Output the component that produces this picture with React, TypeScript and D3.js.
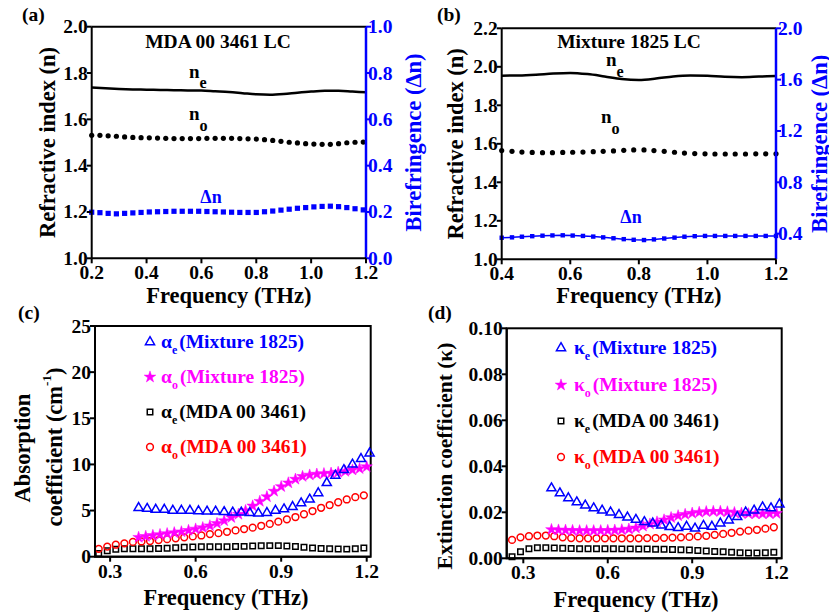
import React from 'react';
import * as d3 from 'd3';

const FONT = 'Liberation Serif, DejaVu Serif, Noto Serif, Times New Roman, Times, serif';
const BLUE = '#0000ff';
const MAGENTA = '#ff00ff';
const RED = '#ff0000';
const BLACK = '#000000';

// ---------- Panel (a): MDA 00 3461 LC ----------
const freqA = [0.20,0.23,0.26,0.29,0.32,0.35,0.38,0.41,0.44,0.47,0.50,0.53,0.56,0.59,0.62,0.65,0.68,0.71,0.74,0.77,0.80,0.83,0.86,0.89,0.92,0.95,0.98,1.01,1.04,1.07,1.10,1.13,1.16,1.19];
const noA = [1.531,1.531,1.529,1.527,1.524,1.522,1.521,1.520,1.519,1.518,1.517,1.517,1.517,1.517,1.518,1.518,1.518,1.518,1.517,1.516,1.515,1.512,1.509,1.505,1.501,1.498,1.495,1.493,1.492,1.492,1.495,1.499,1.501,1.502];
const dnA = [0.199,0.197,0.194,0.192,0.194,0.196,0.198,0.200,0.201,0.202,0.203,0.203,0.203,0.203,0.202,0.201,0.200,0.199,0.198,0.198,0.198,0.201,0.204,0.208,0.212,0.216,0.219,0.222,0.224,0.225,0.223,0.219,0.214,0.209];
const freqNeA = [0.20,0.25,0.30,0.35,0.40,0.45,0.50,0.55,0.60,0.65,0.70,0.75,0.80,0.85,0.90,0.95,1.00,1.05,1.10,1.15,1.20];
const neA = [1.738,1.734,1.731,1.729,1.728,1.727,1.726,1.725,1.724,1.721,1.718,1.713,1.708,1.706,1.709,1.715,1.720,1.723,1.723,1.720,1.717];
const ticksA_left = [1.0,1.2,1.4,1.6,1.8,2.0];
const ticksA_right = [0.0,0.2,0.4,0.6,0.8,1.0];
const ticksA_x = [0.2,0.4,0.6,0.8,1.0,1.2];

// ---------- Panel (b): Mixture 1825 LC ----------
const freqB = [0.400,0.430,0.459,0.489,0.519,0.548,0.578,0.607,0.637,0.667,0.696,0.726,0.756,0.785,0.815,0.844,0.874,0.904,0.933,0.963,0.993,1.022,1.052,1.081,1.111,1.141,1.170,1.200];
const noB = [1.565,1.561,1.557,1.555,1.554,1.554,1.555,1.556,1.557,1.559,1.561,1.563,1.566,1.568,1.568,1.565,1.561,1.556,1.552,1.549,1.548,1.547,1.547,1.547,1.547,1.548,1.548,1.548];
const dnB = [0.368,0.371,0.376,0.380,0.384,0.386,0.387,0.385,0.382,0.377,0.371,0.364,0.357,0.352,0.350,0.355,0.362,0.369,0.376,0.380,0.382,0.382,0.382,0.382,0.382,0.382,0.382,0.382];
const freqNeB = [0.40,0.45,0.50,0.55,0.60,0.65,0.70,0.75,0.80,0.85,0.90,0.95,1.00,1.05,1.10,1.15,1.20];
const neB = [1.954,1.955,1.959,1.965,1.968,1.962,1.950,1.937,1.932,1.939,1.950,1.955,1.953,1.948,1.946,1.949,1.952];
const ticksB_left = [1.0,1.2,1.4,1.6,1.8,2.0,2.2];
const ticksB_right = [0.4,0.8,1.2,1.6,2.0];
const ticksB_x = [0.4,0.6,0.8,1.0,1.2];

// ---------- Panel (c): absorption coefficient ----------
const freqTri = [0.40,0.43,0.46,0.49,0.52,0.55,0.58,0.61,0.64,0.67,0.70,0.73,0.76,0.79,0.82,0.85,0.88,0.91,0.94,0.97,1.00,1.03,1.06,1.09,1.12,1.15,1.18,1.21];
const freqStar = [0.400,0.425,0.450,0.475,0.500,0.525,0.550,0.575,0.600,0.625,0.650,0.675,0.700,0.725,0.750,0.775,0.800,0.825,0.850,0.875,0.900,0.925,0.950,0.975,1.000,1.025,1.050,1.075,1.100,1.125,1.150,1.175,1.200];
const freqMDA = [0.26,0.29,0.32,0.35,0.38,0.41,0.44,0.47,0.50,0.53,0.56,0.59,0.62,0.65,0.68,0.71,0.74,0.77,0.80,0.83,0.86,0.89,0.92,0.95,0.98,1.01,1.04,1.07,1.10,1.13,1.16,1.19];
const alphaEMix = [5.3,5.2,5.1,5.1,5.0,5.0,5.0,4.95,4.9,4.9,4.85,4.8,4.8,4.75,4.7,4.75,5.0,5.15,5.4,5.8,6.2,6.9,8.0,8.8,9.4,10.0,10.6,11.2];
const alphaOMix = [2.1,2.2,2.3,2.4,2.5,2.6,2.7,2.85,3.0,3.15,3.35,3.6,3.9,4.25,4.6,5.0,5.5,6.0,6.5,7.1,7.6,8.0,8.4,8.7,8.85,8.95,9.0,9.05,9.15,9.25,9.4,9.55,9.75];
const alphaEMDA = [0.35,0.65,0.8,0.85,0.85,0.85,0.85,0.88,0.92,0.97,1.02,1.05,1.07,1.08,1.08,1.08,1.1,1.12,1.15,1.18,1.2,1.2,1.17,1.1,1.02,0.95,0.9,0.86,0.83,0.82,0.85,0.95];
const alphaOMDA = [0.85,1.1,1.3,1.45,1.6,1.65,1.7,1.8,1.9,2.0,2.1,2.2,2.3,2.45,2.55,2.7,2.85,3.0,3.15,3.35,3.55,3.8,4.05,4.3,4.6,4.95,5.3,5.6,5.9,6.2,6.45,6.65];
const ticksC_left = [0,5,10,15,20,25];
const ticksCD_x = [0.3,0.6,0.9,1.2];

// ---------- Panel (d): extinction coefficient ----------
const kappaEMix = [0.0305,0.0283,0.0262,0.0244,0.0230,0.0218,0.0208,0.0200,0.0189,0.0178,0.0168,0.0158,0.0152,0.0143,0.0137,0.0132,0.0138,0.0130,0.0142,0.0138,0.0152,0.0165,0.0180,0.0200,0.0208,0.0222,0.0218,0.0235];
const kappaOMix = [0.0125,0.0123,0.0122,0.0121,0.0120,0.0120,0.0120,0.0120,0.0121,0.0122,0.0124,0.0127,0.0132,0.0140,0.0149,0.0158,0.0167,0.0177,0.0185,0.0191,0.0196,0.0200,0.0203,0.0204,0.0204,0.0202,0.0199,0.0196,0.0194,0.0193,0.0193,0.0194,0.0195];
const kappaEMDA = [0.0007,0.0028,0.0042,0.0046,0.0046,0.0045,0.0044,0.0043,0.0042,0.0042,0.0042,0.0042,0.0042,0.0041,0.0041,0.0040,0.0040,0.0039,0.0039,0.0038,0.0037,0.0036,0.0034,0.0032,0.0030,0.0028,0.0026,0.0024,0.0023,0.0023,0.0024,0.0026];
const kappaOMDA = [0.0080,0.0091,0.0096,0.0099,0.0099,0.0096,0.0091,0.0088,0.0087,0.0087,0.0087,0.0087,0.0087,0.0087,0.0087,0.0087,0.0088,0.0088,0.0089,0.0090,0.0091,0.0093,0.0095,0.0098,0.0102,0.0106,0.0111,0.0116,0.0120,0.0124,0.0129,0.0135];
const ticksD_left = [0.00,0.02,0.04,0.06,0.08,0.10];

const legendSources = ['(Mixture 1825)', '(Mixture 1825)', '(MDA 00 3461)', '(MDA 00 3461)'];

type Box = { left: number; right: number; top: number; bottom: number };

const boxA: Box = { left: 91.7, right: 366, top: 26.7, bottom: 258.3 };
const boxB: Box = { left: 501.7, right: 776, top: 28.3, bottom: 259.3 };
const boxC: Box = { left: 95, right: 370.7, top: 326, bottom: 556.7 };
const boxD: Box = { left: 506.7, right: 781.7, top: 328.3, bottom: 558.3 };

const TICK_FS = 19.5;
const TITLE_FS = 22.5;

function LeftAxis({ box, scale, ticks, fmt, color = BLACK }: any) {
  return (
    <g>
      <line x1={box.left} x2={box.left} y1={box.top} y2={box.bottom} stroke={color} strokeWidth={2} />
      {ticks.map((t: number, i: number) => (
        <g key={i}>
          <line x1={box.left - 5} x2={box.left} y1={scale(t)} y2={scale(t)} stroke={color} strokeWidth={2} />
          <text x={box.left - 4} y={scale(t)} textAnchor="end" dominantBaseline="central"
            fontFamily={FONT} fontWeight="bold" fontSize={TICK_FS} fill={color}>{fmt(t)}</text>
        </g>
      ))}
    </g>
  );
}

function RightAxis({ box, scale, ticks, fmt, color }: any) {
  return (
    <g>
      <line x1={box.right} x2={box.right} y1={box.top} y2={box.bottom} stroke={color} strokeWidth={2.5} />
      {ticks.map((t: number, i: number) => (
        <g key={i}>
          <line x1={box.right} x2={box.right + 5} y1={scale(t)} y2={scale(t)} stroke={color} strokeWidth={2} />
          <text x={box.right + 2} y={scale(t)} textAnchor="start" dominantBaseline="central"
            fontFamily={FONT} fontWeight="bold" fontSize={TICK_FS} fill={color}>{fmt(t)}</text>
        </g>
      ))}
    </g>
  );
}

function BottomAxis({ box, scale, ticks, fmt }: any) {
  return (
    <g>
      <line x1={box.left} x2={box.right} y1={box.bottom} y2={box.bottom} stroke={BLACK} strokeWidth={2} />
      {ticks.map((t: number, i: number) => (
        <g key={i}>
          <line x1={scale(t)} x2={scale(t)} y1={box.bottom} y2={box.bottom + 5} stroke={BLACK} strokeWidth={2} />
          <text x={scale(t)} y={box.bottom + 21} textAnchor="middle"
            fontFamily={FONT} fontWeight="bold" fontSize={TICK_FS} fill={BLACK}>{fmt(t)}</text>
        </g>
      ))}
    </g>
  );
}

function Sub({ x, y, main, sub, color = BLACK, fs = 19, subDy = 10 }: any) {
  return (
    <text x={x} y={y} fontFamily={FONT} fontWeight="bold" fontSize={fs} fill={color}>
      {main}
      <tspan dy={subDy} fontSize={fs * 0.85}>{sub}</tspan>
    </text>
  );
}

function markerPath(type: string) {
  if (type === 'tri') return d3.symbol(d3.symbolTriangle, 36)()!;
  if (type === 'star') return d3.symbol(d3.symbolStar, 42)()!;
  if (type === 'sq') return d3.symbol(d3.symbolSquare, 30)()!;
  return d3.symbol(d3.symbolCircle, 36)()!;
}

function Markers({ xs, ys, x, y, type, color }: any) {
  const p = markerPath(type);
  const filled = type === 'star';
  return (
    <g>
      {xs.map((f: number, i: number) => (
        <path key={i} d={p} transform={`translate(${x(f)},${y(ys[i])})`}
          fill={filled ? color : 'none'} stroke={color} strokeWidth={filled ? 0.5 : 1.5} />
      ))}
    </g>
  );
}

function PanelA() {
  const b = boxA;
  const x = d3.scaleLinear().domain([0.2, 1.2]).range([b.left, b.right]);
  const y = d3.scaleLinear().domain([1.0, 2.0]).range([b.bottom, b.top]);
  const y2 = d3.scaleLinear().domain([0.0, 1.0]).range([b.bottom, b.top]);
  const line = d3.line<number>().x((_, i) => x(freqNeA[i])).y(d => y(d)).curve(d3.curveMonotoneX);
  return (
    <g>
      <line x1={b.left} x2={b.right} y1={b.top} y2={b.top} stroke={BLACK} strokeWidth={2} />
      <path d={line(neA)!} fill="none" stroke={BLACK} strokeWidth={2.5} />
      {freqA.map((f, i) => <circle key={'o' + i} cx={x(f)} cy={y(noA[i])} r={2.6} fill={BLACK} />)}
      {freqA.map((f, i) => <rect key={'d' + i} x={x(f) - 2.6} y={y2(dnA[i]) - 2.6} width={5.2} height={5.2} fill={BLUE} />)}
      <LeftAxis box={b} scale={y} ticks={ticksA_left} fmt={d3.format('.1f')} />
      <RightAxis box={b} scale={y2} ticks={ticksA_right} fmt={d3.format('.1f')} color={BLUE} />
      <BottomAxis box={b} scale={x} ticks={ticksA_x} fmt={d3.format('.1f')} />
      <text x={218} y={48} textAnchor="middle" fontFamily={FONT} fontWeight="bold" fontSize={19.5}>MDA 00 3461 LC</text>
      <Sub x={189} y={78} main="n" sub="e" />
      <Sub x={189} y={120} main="n" sub="o" subDy={11} />
      <text x={211} y={203} textAnchor="middle" fontFamily={FONT} fontWeight="bold" fontSize={18} fill={BLUE}>Δn</text>
      <text x={22} y={21} fontFamily={FONT} fontWeight="bold" fontSize={19.5}>(a)</text>
      <text transform={`translate(47,${(b.top + b.bottom) / 2}) rotate(-90)`} textAnchor="middle" dominantBaseline="central"
        fontFamily={FONT} fontWeight="bold" fontSize={TITLE_FS}>Refractive index (n)</text>
      <text transform={`translate(413,${(b.top + b.bottom) / 2}) rotate(-90)`} textAnchor="middle" dominantBaseline="central"
        fontFamily={FONT} fontWeight="bold" fontSize={TITLE_FS} fill={BLUE}>Birefringence (Δn)</text>
      <text x={(b.left + b.right) / 2} y={303} textAnchor="middle" fontFamily={FONT} fontWeight="bold" fontSize={TITLE_FS}>Frequency (THz)</text>
    </g>
  );
}

function PanelB() {
  const b = boxB;
  const x = d3.scaleLinear().domain([0.4, 1.2]).range([b.left, b.right]);
  const y = d3.scaleLinear().domain([1.0, 2.2]).range([b.bottom, b.top]);
  const y2 = d3.scaleLinear().domain([0.2, 2.0]).range([b.bottom, b.top]);
  const line = d3.line<number>().x((_, i) => x(freqNeB[i])).y(d => y(d)).curve(d3.curveMonotoneX);
  const dnLine = d3.line<number>().x((_, i) => x(freqB[i])).y(d => y2(d));
  return (
    <g>
      <line x1={b.left} x2={b.right} y1={b.top} y2={b.top} stroke={BLACK} strokeWidth={2} />
      <path d={line(neB)!} fill="none" stroke={BLACK} strokeWidth={2.5} />
      {freqB.map((f, i) => <circle key={'o' + i} cx={x(f)} cy={y(noB[i])} r={2.6} fill={BLACK} />)}
      <path d={dnLine(dnB)!} fill="none" stroke={BLUE} strokeWidth={1.5} />
      {freqB.map((f, i) => <rect key={'d' + i} x={x(f) - 2.2} y={y2(dnB[i]) - 2.2} width={4.4} height={4.4} fill={BLUE} />)}
      <LeftAxis box={b} scale={y} ticks={ticksB_left} fmt={d3.format('.1f')} />
      <RightAxis box={b} scale={y2} ticks={ticksB_right} fmt={d3.format('.1f')} color={BLUE} />
      <BottomAxis box={b} scale={x} ticks={ticksB_x} fmt={d3.format('.1f')} />
      <text x={629} y={48} textAnchor="middle" fontFamily={FONT} fontWeight="bold" fontSize={19.5}>Mixture 1825 LC</text>
      <Sub x={606} y={66} main="n" sub="e" subDy={11} />
      <Sub x={601} y={123} main="n" sub="o" subDy={11} />
      <text x={631} y={223} textAnchor="middle" fontFamily={FONT} fontWeight="bold" fontSize={18} fill={BLUE}>Δn</text>
      <text x={437} y={21} fontFamily={FONT} fontWeight="bold" fontSize={19.5}>(b)</text>
      <text transform={`translate(455,${(b.top + b.bottom) / 2}) rotate(-90)`} textAnchor="middle" dominantBaseline="central"
        fontFamily={FONT} fontWeight="bold" fontSize={TITLE_FS}>Refractive index (n)</text>
      <text transform={`translate(819,${(b.top + b.bottom) / 2}) rotate(-90)`} textAnchor="middle" dominantBaseline="central"
        fontFamily={FONT} fontWeight="bold" fontSize={TITLE_FS} fill={BLUE}>Birefringence (Δn)</text>
      <text x={(b.left + b.right) / 2} y={303} textAnchor="middle" fontFamily={FONT} fontWeight="bold" fontSize={TITLE_FS}>Frequency (THz)</text>
    </g>
  );
}

function Legend({ mx, tx, ys, sym, types, colors }: any) {
  return (
    <g>
      {types.map((t: string, i: number) => (
        <g key={i}>
          <path d={markerPath(t)} transform={`translate(${mx},${ys[i]})`} fill={t === 'star' ? colors[i] : 'none'}
            stroke={colors[i]} strokeWidth={t === 'star' ? 0.5 : 1.5} />
          <text x={tx} y={ys[i] + 6} fontFamily={FONT} fontWeight="bold" fontSize={19.5} fill={colors[i]}>
            {sym}
            <tspan dy={6} fontSize={12}>{i % 2 === 0 ? 'e' : 'o'}</tspan>
            <tspan dy={-6} dx={2}>{legendSources[i]}</tspan>
          </text>
        </g>
      ))}
    </g>
  );
}

function PanelC() {
  const b = boxC;
  const x = d3.scaleLinear().domain([0.247, 1.214]).range([b.left, b.right]);
  const y = d3.scaleLinear().domain([0, 25]).range([b.bottom, b.top]);
  return (
    <g>
      <rect x={b.left} y={b.top} width={b.right - b.left} height={b.bottom - b.top} fill="none" stroke={BLACK} strokeWidth={2} />
      <Markers xs={freqMDA} ys={alphaEMDA} x={x} y={y} type="sq" color={BLACK} />
      <Markers xs={freqMDA} ys={alphaOMDA} x={x} y={y} type="circ" color={RED} />
      <Markers xs={freqStar} ys={alphaOMix} x={x} y={y} type="star" color={MAGENTA} />
      <Markers xs={freqTri} ys={alphaEMix} x={x} y={y} type="tri" color={BLUE} />
      <LeftAxis box={b} scale={y} ticks={ticksC_left} fmt={d3.format('d')} />
      <BottomAxis box={b} scale={x} ticks={ticksCD_x} fmt={d3.format('.1f')} />
      <Legend mx={150} tx={161} ys={[342, 377, 412, 447]} sym="α" types={['tri', 'star', 'sq', 'circ']} colors={[BLUE, MAGENTA, BLACK, RED]} />
      <text x={18} y={319} fontFamily={FONT} fontWeight="bold" fontSize={19.5}>(c)</text>
      <text transform={`translate(22,448) rotate(-90)`} textAnchor="middle" dominantBaseline="central"
        fontFamily={FONT} fontWeight="bold" fontSize={TITLE_FS}>Absorption</text>
      <text transform={`translate(54,447) rotate(-90)`} textAnchor="middle" dominantBaseline="central"
        fontFamily={FONT} fontWeight="bold" fontSize={TITLE_FS}>
        coefficient (cm<tspan dy={-8} fontSize={13}>-1</tspan><tspan dy={8}>)</tspan>
      </text>
      <text x={226} y={605} textAnchor="middle" fontFamily={FONT} fontWeight="bold" fontSize={TITLE_FS}>Frequency (THz)</text>
    </g>
  );
}

function PanelD() {
  const b = boxD;
  const x = d3.scaleLinear().domain([0.241, 1.218]).range([b.left, b.right]);
  const y = d3.scaleLinear().domain([0, 0.1]).range([b.bottom, b.top]);
  return (
    <g>
      <rect x={b.left} y={b.top} width={b.right - b.left} height={b.bottom - b.top} fill="none" stroke={BLACK} strokeWidth={2} />
      <Markers xs={freqMDA} ys={kappaEMDA} x={x} y={y} type="sq" color={BLACK} />
      <Markers xs={freqMDA} ys={kappaOMDA} x={x} y={y} type="circ" color={RED} />
      <Markers xs={freqStar} ys={kappaOMix} x={x} y={y} type="star" color={MAGENTA} />
      <Markers xs={freqTri} ys={kappaEMix} x={x} y={y} type="tri" color={BLUE} />
      <LeftAxis box={b} scale={y} ticks={ticksD_left} fmt={d3.format('.2f')} />
      <BottomAxis box={b} scale={x} ticks={ticksCD_x} fmt={d3.format('.1f')} />
      <Legend mx={561} tx={574} ys={[348, 385, 421, 457]} sym="κ" types={['tri', 'star', 'sq', 'circ']} colors={[BLUE, MAGENTA, BLACK, RED]} />
      <text x={428} y={319} fontFamily={FONT} fontWeight="bold" fontSize={19.5}>(d)</text>
      <text transform={`translate(445,456) rotate(-90)`} textAnchor="middle" dominantBaseline="central"
        fontFamily={FONT} fontWeight="bold" fontSize={21.5}>Extinction coefficient (κ)</text>
      <text x={636} y={607} textAnchor="middle" fontFamily={FONT} fontWeight="bold" fontSize={TITLE_FS}>Frequency (THz)</text>
    </g>
  );
}

export default function App() {
  return (
    <div style={{ position: 'absolute', left: 0, top: 0 }}>
      <svg width={829} height={613} viewBox="0 0 829 613" style={{ display: 'block', background: '#fff' }}>
        <rect x={0} y={0} width={829} height={613} fill="#fff" />
        <PanelA />
        <PanelB />
        <PanelC />
        <PanelD />
      </svg>
    </div>
  );
}
